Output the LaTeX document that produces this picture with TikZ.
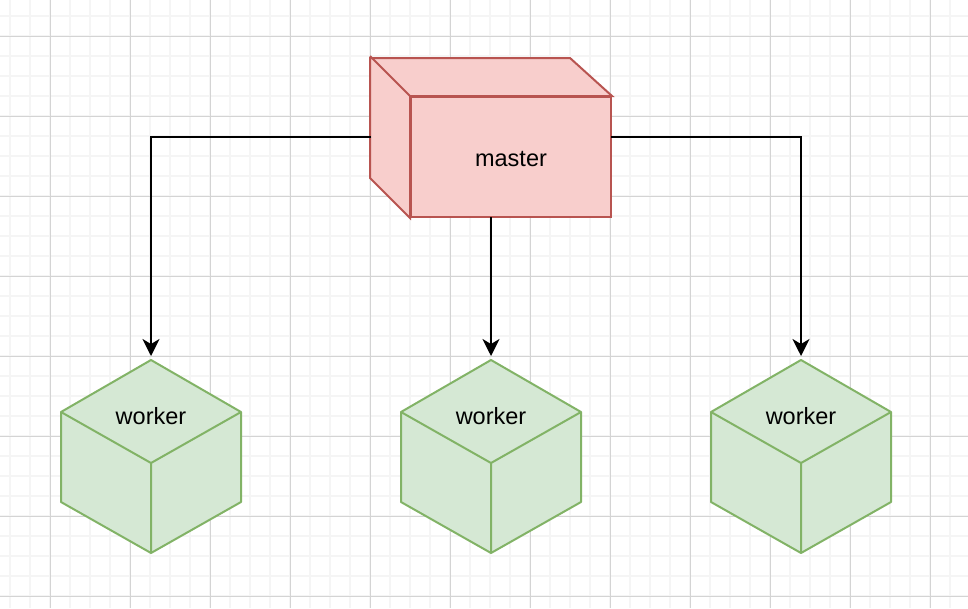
\documentclass[tikz,border=0pt]{standalone}
\usepackage{fontspec}
\setmainfont{Liberation Sans}
\usepackage{tikz}
\usetikzlibrary{positioning,arrows.meta}
\definecolor{masterfill}{HTML}{F8CECC}
\definecolor{masterline}{HTML}{B85450}
\definecolor{workerfill}{HTML}{D5E8D4}
\definecolor{workerline}{HTML}{82B366}
\tikzset{
    minor grid/.style={draw=black!4, line width=1.5pt, step=20pt},
    major grid/.style={draw=black!17, line width=1pt, step=80pt},
    box area/.style={rectangle, inner sep=0pt, outer sep=0pt},
    master front/.style={rectangle, draw=masterline, fill=masterfill, line width=2pt, minimum width=200pt, minimum height=120pt, inner sep=0pt},
    master side/.style={draw=masterline, fill=masterfill, line width=2pt, line join=miter},
    worker side/.style={draw=workerline, fill=workerfill, line width=2pt, line join=round},
    worker edge/.style={draw=workerline, line width=2pt},
    label text/.style={font=\fontsize{23.5}{28}\selectfont, text height=18pt, text depth=0pt},
    link/.style={-{Stealth[length=17pt, width=17pt, inset=5pt]}, line width=2pt, black, shorten >=4pt}
}
\begin{document}
\begin{tikzpicture}[x=1pt, y=-1pt]
    \useasboundingbox (0,0) rectangle (968,608);
    \fill[white] (0,0) rectangle (968,608);

    % Background grid
    \begin{scope}[shift={(10,16)}]
        \draw[minor grid] (-10,-16) grid (958,592);
    \end{scope}
    \begin{scope}[shift={(50,36)}]
        \draw[major grid] (-50,-36) grid (918,572);
    \end{scope}

    % Master - whole area and front face
    \node[box area, minimum width=240pt, minimum height=160pt] (mbox) at (491,137) {};
    \node[master front, label text] (master) at (511,157) {master};
    \filldraw[master side] (master.south west) -- ++(-40,-40) -- ++(0,-120) -- ++(200,0)
        -- (master.north east) -- (master.north west) -- cycle;
    \draw[master side, fill=none] (master.north west) -- ++(-40,-40);

    % Worker areas
    \node[box area, minimum width=180pt, minimum height=193pt] (wa) at (151,456.5) {};
    \node[box area, minimum width=180pt, minimum height=193pt] (wb) at (491,456.5) {};
    \node[box area, minimum width=180pt, minimum height=193pt] (wc) at (801,456.5) {};

    % Worker cubes
    \filldraw[worker side] (wa.north) -- ++(90,52) -- ++(0,90) -- (wa.south) -- ++(-90,-51) -- ++(0,-90) -- cycle;
    \draw[worker edge] (wa.north) ++(-90,52) -- ++(90,51) -- ++(90,-51) ++(-90,51) -- (wa.south);
    \filldraw[worker side] (wb.north) -- ++(90,52) -- ++(0,90) -- (wb.south) -- ++(-90,-51) -- ++(0,-90) -- cycle;
    \draw[worker edge] (wb.north) ++(-90,52) -- ++(90,51) -- ++(90,-51) ++(-90,51) -- (wb.south);
    \filldraw[worker side] (wc.north) -- ++(90,52) -- ++(0,90) -- (wc.south) -- ++(-90,-51) -- ++(0,-90) -- cycle;
    \draw[worker edge] (wc.north) ++(-90,52) -- ++(90,51) -- ++(90,-51) ++(-90,51) -- (wc.south);

    % Worker labels
    \node[label text] (wa label) at (151,415) {worker};
    \node[label text] (wb label) at (491,415) {worker};
    \node[label text] (wc label) at (801,415) {worker};

    % Links
    \draw[link] (mbox.west) -| (wa.north);
    \draw[link] (mbox.south) -- (wb.north);
    \draw[link] (mbox.east) -| (wc.north);
\end{tikzpicture}
\end{document}
